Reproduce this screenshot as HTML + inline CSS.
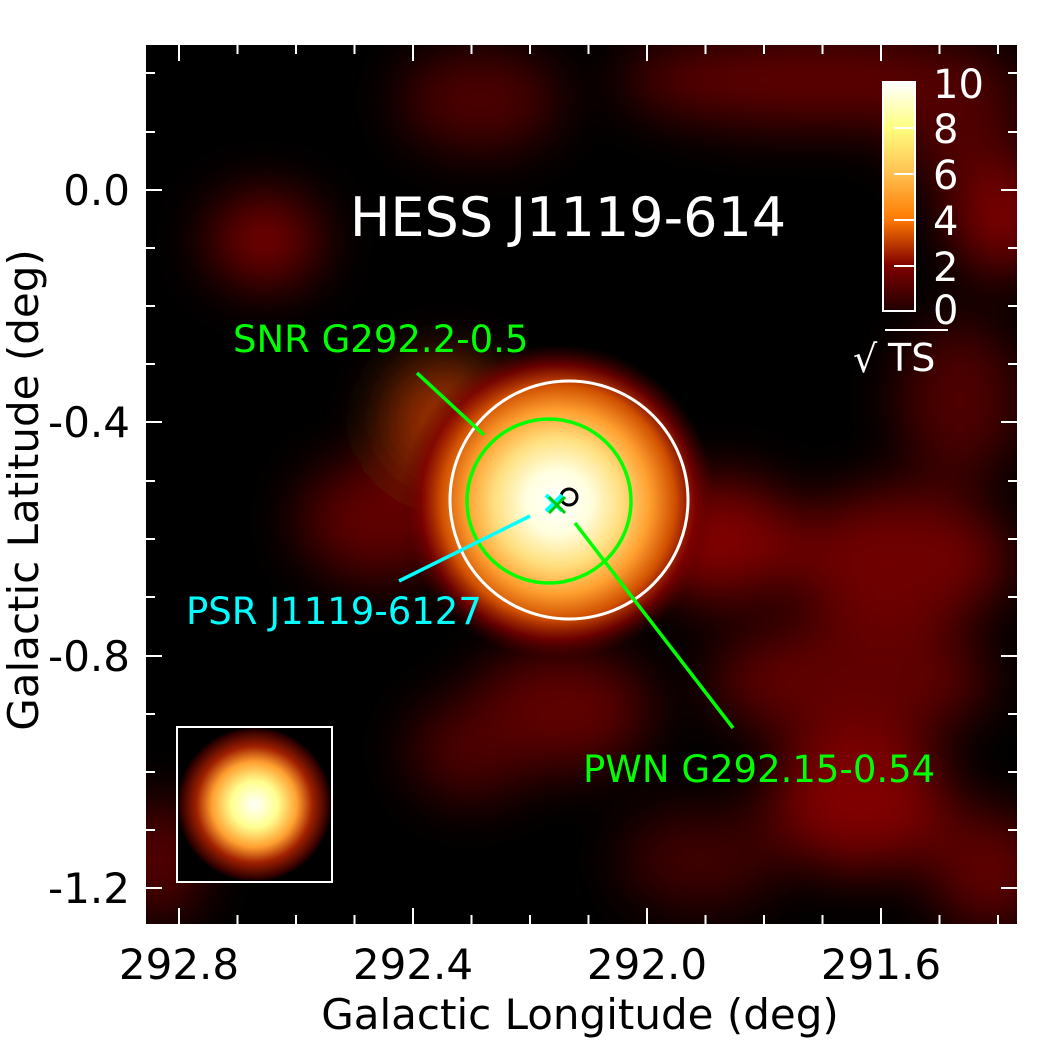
<!DOCTYPE html>
<html><head><style>
body{margin:0;background:#fff;width:1039px;height:1039px;overflow:hidden}
svg text{font-family:"DejaVu Sans","Liberation Sans",sans-serif}
</style></head><body>
<svg width="1039" height="1039" viewBox="0 0 1039 1039" xmlns="http://www.w3.org/2000/svg">
<defs>
<clipPath id="pc"><rect x="146" y="45" width="871" height="879"/></clipPath>
<filter id="bl" x="-100%" y="-100%" width="300%" height="300%"><feGaussianBlur stdDeviation="28"/></filter>
<radialGradient id="src" cx="0.5" cy="0.5" r="0.5">
<stop offset="0" stop-color="#ffffff"/>
<stop offset="0.2" stop-color="#ffffe0"/>
<stop offset="0.4" stop-color="#ffe080"/>
<stop offset="0.58" stop-color="#ffa030"/>
<stop offset="0.74" stop-color="#d05000"/>
<stop offset="0.87" stop-color="#800000" stop-opacity="0.8"/>
<stop offset="1" stop-color="#500000" stop-opacity="0"/>
</radialGradient>
<radialGradient id="psf" cx="0.5" cy="0.5" r="0.5">
<stop offset="0" stop-color="#ffffff"/>
<stop offset="0.3" stop-color="#ffff90"/>
<stop offset="0.55" stop-color="#ffa030"/>
<stop offset="0.75" stop-color="#a02000"/>
<stop offset="0.95" stop-color="#300000"/>
<stop offset="1" stop-color="#000"/>
</radialGradient>
<linearGradient id="cb" x1="0" y1="1" x2="0" y2="0">
<stop offset="0" stop-color="#200000"/>
<stop offset="0.2" stop-color="#800000"/>
<stop offset="0.4" stop-color="#ff7a00"/>
<stop offset="0.6" stop-color="#ffc050"/>
<stop offset="0.8" stop-color="#ffff80"/>
<stop offset="1" stop-color="#ffffff"/>
</linearGradient>
</defs>
<rect x="146" y="45" width="871" height="879" fill="#000"/>
<g clip-path="url(#pc)">
<g filter="url(#bl)">
<ellipse cx="265" cy="240" rx="55" ry="45" fill="#7a0000"/>
<ellipse cx="480" cy="100" rx="80" ry="50" fill="#500000"/>
<ellipse cx="820" cy="80" rx="200" ry="45" fill="#600000"/>
<ellipse cx="1000" cy="215" rx="50" ry="60" fill="#800000"/>
<ellipse cx="960" cy="130" rx="60" ry="60" fill="#500000"/>
<ellipse cx="960" cy="400" rx="60" ry="80" fill="#500000"/>
<ellipse cx="445" cy="420" rx="60" ry="60" fill="#a03000"/>
<ellipse cx="380" cy="520" rx="80" ry="60" fill="#600000"/>
<ellipse cx="720" cy="540" rx="80" ry="60" fill="#800000"/>
<ellipse cx="900" cy="560" rx="110" ry="70" fill="#700000"/>
<ellipse cx="850" cy="680" rx="140" ry="60" fill="#600000"/>
<ellipse cx="560" cy="710" rx="90" ry="60" fill="#600000"/>
<ellipse cx="470" cy="750" rx="60" ry="50" fill="#500000"/>
<ellipse cx="860" cy="800" rx="90" ry="70" fill="#800000"/>
<ellipse cx="990" cy="870" rx="60" ry="60" fill="#600000"/>
<ellipse cx="160" cy="860" rx="40" ry="60" fill="#600000"/>
<ellipse cx="700" cy="860" rx="80" ry="50" fill="#400000"/>
</g>
<circle cx="558" cy="502" r="158" fill="url(#src)"/>
</g>
<rect x="177" y="727" width="155" height="155" fill="url(#psf)" stroke="#fff" stroke-width="2"/>
<circle cx="569" cy="500" r="119" fill="none" stroke="#fff" stroke-width="3"/>
<circle cx="549" cy="501" r="82" fill="none" stroke="#00ff00" stroke-width="3.5"/>
<circle cx="569" cy="497" r="8" fill="none" stroke="#000" stroke-width="3"/>
<path d="M546 495 L562 511 M562 495 L546 511" stroke="#00ffff" stroke-width="4"/>
<path d="M549 497 L565 513 M565 497 L549 513" stroke="#00cc00" stroke-width="3"/>
<line x1="417" y1="373" x2="484" y2="435" stroke="#00ff00" stroke-width="3.5"/>
<line x1="575" y1="523" x2="733" y2="728" stroke="#00ff00" stroke-width="3.5"/>
<line x1="530" y1="516" x2="399" y2="581" stroke="#00ffff" stroke-width="3.5"/>
<text x="568" y="236" fill="#fff" font-size="54" text-anchor="middle">HESS J1119-614</text>
<text x="233" y="352" fill="#00ff00" font-size="37">SNR G292.2-0.5</text>
<text x="186" y="624" fill="#00ffff" font-size="37">PSR J1119-6127</text>
<text x="583" y="782" fill="#00ff00" font-size="37">PWN G292.15-0.54</text>
<rect x="883" y="82" width="32" height="229" fill="url(#cb)" stroke="#fff" stroke-width="2"/>
<g stroke="#fff" stroke-width="2">
<line x1="894" y1="128" x2="914" y2="128"/><line x1="894" y1="174" x2="914" y2="174"/>
<line x1="894" y1="220" x2="914" y2="220"/><line x1="894" y1="266" x2="914" y2="266"/>
</g>
<g fill="#fff" font-size="40">
<text x="933" y="98">10</text><text x="933" y="143">8</text><text x="933" y="189">6</text>
<text x="933" y="235">4</text><text x="933" y="281">2</text><text x="933" y="324">0</text>
<text x="853" y="372" font-size="38">√</text><text x="888" y="371" font-size="38">TS</text>
</g>
<line x1="885" y1="330" x2="948" y2="330" stroke="#fff" stroke-width="2"/>
<g stroke="#fff" stroke-width="2">
<path d="M179 45v16M237.5 45v9M296 45v9M354.5 45v9M413 45v16M471.5 45v9M530 45v9M588.5 45v9M647 45v16M705.5 45v9M764 45v9M822.5 45v9M881 45v16M939.5 45v9M998 45v9"/>
<path d="M179 924v-16M237.5 924v-9M296 924v-9M354.5 924v-9M413 924v-16M471.5 924v-9M530 924v-9M588.5 924v-9M647 924v-16M705.5 924v-9M764 924v-9M822.5 924v-9M881 924v-16M939.5 924v-9M998 924v-9"/>
<path d="M146 73h9M146 132h9M146 190h16M146 248h9M146 306h9M146 364h9M146 422h16M146 481h9M146 539h9M146 597h9M146 656h16M146 714h9M146 772h9M146 830h9M146 888h16"/>
<path d="M1017 73h-9M1017 132h-9M1017 190h-16M1017 248h-9M1017 306h-9M1017 364h-9M1017 422h-16M1017 481h-9M1017 539h-9M1017 597h-9M1017 656h-16M1017 714h-9M1017 772h-9M1017 830h-9M1017 888h-16"/>
</g>
<g fill="#000" font-size="42">
<text x="179" y="979" text-anchor="middle">292.8</text>
<text x="413" y="979" text-anchor="middle">292.4</text>
<text x="647" y="979" text-anchor="middle">292.0</text>
<text x="881" y="979" text-anchor="middle">291.6</text>
<text x="130" y="205" text-anchor="end">0.0</text>
<text x="130" y="437" text-anchor="end">-0.4</text>
<text x="130" y="671" text-anchor="end">-0.8</text>
<text x="130" y="903" text-anchor="end">-1.2</text>
<text x="580" y="1029" text-anchor="middle">Galactic Longitude (deg)</text>
<text transform="translate(38,490) rotate(-90)" text-anchor="middle">Galactic Latitude (deg)</text>
</g>
</svg>
</body></html>
